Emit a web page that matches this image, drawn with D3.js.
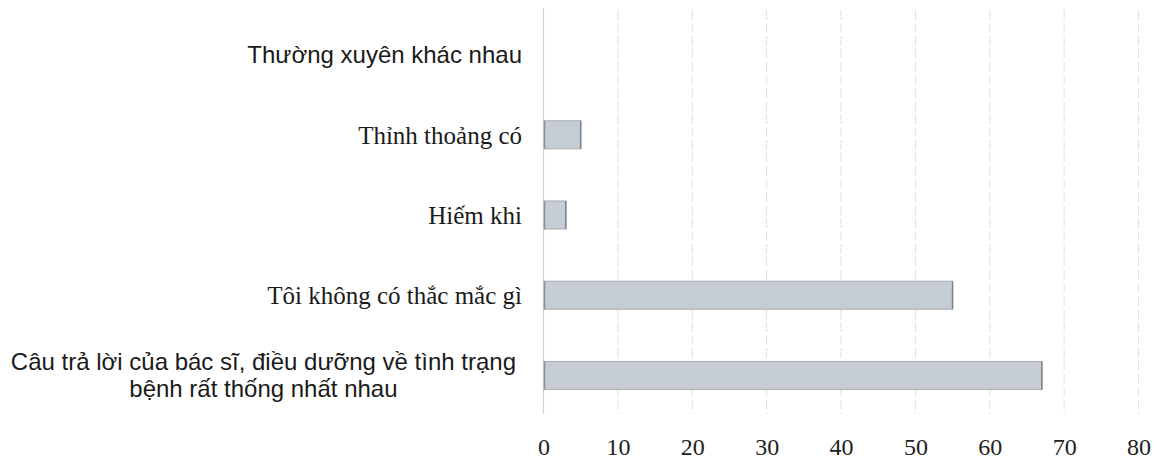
<!DOCTYPE html>
<html>
<head>
<meta charset="utf-8">
<script src="https://cdn.jsdelivr.net/npm/d3@7"></script>
<style>
  html, body { margin: 0; padding: 0; background: #fff; }
  svg { display: block; }
</style>
</head>
<body>
<svg id="chart" width="1160" height="462"></svg>
<script>
// Response categories (top to bottom) and counts
const categories = [
  "Thường xuyên khác nhau",
  "Thỉnh thoảng có",
  "Hiếm khi",
  "Tôi không có thắc mắc gì",
  "Câu trả lời của bác sĩ, điều dưỡng về tình trạng\nbệnh rất thống nhất nhau"
];
const values = [0, 5, 3, 55, 67];
// Label typeface per category (mixed in the source document)
const labelFonts = ["sans", "serif", "serif", "serif", "sans"];
const tickValues = [0, 10, 20, 30, 40, 50, 60, 70, 80];

const svg = d3.select("#chart");

const x = d3.scaleLinear()
  .domain([0, 80])
  .range([543.5, 1138.5]);

const y = d3.scaleBand()
  .domain(categories)
  .range([14, 416])
  .paddingInner(0.65)
  .paddingOuter(0.33);

// Vertical gridlines
svg.append("g")
  .selectAll("line")
  .data(tickValues.slice(1))
  .join("line")
  .attr("x1", d => x(d)).attr("x2", d => x(d))
  .attr("y1", 10).attr("y2", 414)
  .attr("stroke", "#e0e0e0")
  .attr("stroke-width", 1)
  .attr("stroke-dasharray", "10,3");

// Category axis line
svg.append("line")
  .attr("x1", x(0)).attr("x2", x(0))
  .attr("y1", 8).attr("y2", 414)
  .attr("stroke", "#d0d0d0")
  .attr("stroke-width", 1.2);

// Bars
const barData = categories.map((c, i) => ({ c, v: values[i] })).filter(d => d.v > 0);
svg.append("g")
  .selectAll("rect")
  .data(barData)
  .join("rect")
  .attr("x", x(0) + 1)
  .attr("y", d => y(d.c))
  .attr("width", d => x(d.v) - x(0) - 1)
  .attr("height", y.bandwidth())
  .attr("fill", "#c6ccd4")
  .attr("stroke", "#a9adb4")
  .attr("stroke-width", 1);
// Darker end caps on the bars
svg.append("g")
  .selectAll("line")
  .data(barData)
  .join("line")
  .attr("x1", d => x(d.v)).attr("x2", d => x(d.v))
  .attr("y1", d => y(d.c)).attr("y2", d => y(d.c) + y.bandwidth())
  .attr("stroke", "#7d8086")
  .attr("stroke-width", 1.5);
svg.append("g")
  .selectAll("line")
  .data(barData)
  .join("line")
  .attr("x1", x(0) + 1).attr("x2", x(0) + 1)
  .attr("y1", d => y(d.c)).attr("y2", d => y(d.c) + y.bandwidth())
  .attr("stroke", "#8a8d93")
  .attr("stroke-width", 1.5);

// Value axis tick labels
const xAxis = d3.axisBottom(x)
  .tickValues(tickValues)
  .tickFormat(d3.format("d"))
  .tickSize(0);
const gx = svg.append("g")
  .attr("transform", "translate(0,435)")
  .call(xAxis);
gx.select(".domain").remove();
gx.selectAll("text")
  .attr("font-family", "'Liberation Serif', 'DejaVu Serif', serif")
  .attr("font-size", 24)
  .attr("fill", "#222");

// Category labels
const fontFamilies = {
  sans: "'Liberation Sans', Arial, sans-serif",
  serif: "'Liberation Serif', 'DejaVu Serif', serif"
};
const fontSizes = { sans: 24, serif: 25 };
const labelRight = 522;
categories.forEach((c, i) => {
  const lines = c.split("\n");
  const cy = y(c) + y.bandwidth() / 2;
  const lh = 27;
  const t = svg.append("text")
    .attr("font-family", fontFamilies[labelFonts[i]])
    .attr("font-size", fontSizes[labelFonts[i]])
    .attr("fill", "#1a1a1a");
  lines.forEach((ln, j) => {
    t.append("tspan")
      .attr("y", cy + (j - (lines.length - 1) / 2) * lh)
      .attr("dy", "0.35em")
      .text(ln);
  });
  if (lines.length === 1) {
    t.attr("text-anchor", "end").selectAll("tspan").attr("x", labelRight);
  } else {
    // Multi-line label: centred lines, block right-aligned to the axis gap
    let maxW = 0;
    t.selectAll("tspan").each(function () {
      maxW = Math.max(maxW, this.getComputedTextLength());
    });
    t.attr("text-anchor", "middle").selectAll("tspan").attr("x", labelRight - 6 - maxW / 2);
  }
});
</script>
</body>
</html>
